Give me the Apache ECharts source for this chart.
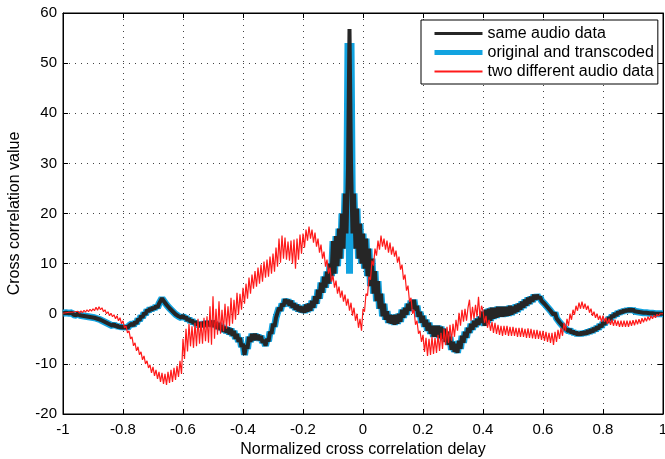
<!DOCTYPE html>
<html>
<head>
<meta charset="utf-8">
<script src="https://cdn.jsdelivr.net/npm/echarts@6/dist/echarts.min.js"></script>
<style>
html,body{margin:0;padding:0;background:#fff;}
#chart{width:665px;height:459px;}
</style>
</head>
<body>
<div id="chart"></div>
<script>
// sampling grid of the normalized delay axis (-1 .. 1, step 0.005)
const delayStart = -1;
const delayStep = 0.005;

// "same audio data" (black), one value per delay step
const sameAudio = [
0.1,-0.2,0.2,-0.1,0.1,-0.2,0.2,-0.2,0.0,-0.3,0.1,-0.3,0.0,-0.4,-0.1,-0.5,-0.2,-0.6,-0.3,-0.7,
-0.5,-0.8,-0.6,-1.0,-0.8,-1.2,-1.0,-1.5,-1.2,-1.8,-1.5,-2.1,-1.8,-2.4,-2.0,-2.6,-2.2,-2.8,-2.4,-2.9,
-2.5,-2.9,-2.5,-2.9,-2.4,-2.7,-2.0,-2.4,-1.6,-2.0,-1.0,-1.4,-0.4,-0.8,0.2,-0.2,0.8,0.4,1.1,0.7,
1.3,0.9,1.6,1.2,2.0,1.9,3.1,2.6,2.5,1.8,1.9,1.1,1.3,0.5,0.7,-0.1,0.2,-0.5,-0.2,-0.8,
-0.3,-1.0,-0.6,-1.4,-0.9,-1.7,-1.2,-2.0,-1.5,-2.3,-1.7,-2.6,-1.8,-2.6,-1.6,-2.5,-1.5,-2.5,-1.5,-2.5,
-1.4,-2.6,-1.7,-3.0,-1.9,-3.2,-2.3,-3.6,-2.6,-3.8,-2.8,-4.1,-3.0,-4.4,-3.4,-5.0,-4.0,-5.6,-4.8,-6.6,
-6.0,-8.2,-6.3,-7.0,-4.6,-5.6,-4.0,-5.3,-4.0,-5.2,-4.2,-5.3,-4.4,-5.8,-5.2,-6.4,-5.0,-5.5,-3.6,-4.0,
-2.0,-2.6,-0.8,-1.0,1.2,0.6,2.0,1.5,2.9,2.0,2.8,1.6,2.6,1.2,2.1,0.8,1.8,0.5,1.5,0.3,
1.4,0.2,1.8,0.4,2.0,0.6,2.6,1.2,3.5,2.0,4.8,3.0,6.2,4.2,7.4,5.2,8.4,6.0,10.0,7.5,
14.5,8.0,15.5,9.5,17.0,11.0,20.0,13.0,24.0,16.0,29.0,56.8,30.0,16.0,24.0,13.0,21.0,11.0,18.0,10.0,
16.0,9.0,15.0,7.5,13.0,5.5,11.0,4.0,8.5,2.5,6.5,1.0,4.0,-0.5,2.0,-1.2,0.5,-1.8,-0.2,-2.0,
-0.3,-2.2,-0.2,-2.0,0.0,-1.6,0.8,-0.8,1.2,-0.2,2.0,0.6,2.6,1.0,2.8,0.6,1.6,-0.6,0.4,-1.8,
-0.4,-2.6,-1.2,-3.4,-1.8,-4.0,-2.4,-4.6,-2.4,-4.6,-2.4,-4.8,-2.6,-5.0,-3.0,-5.6,-3.6,-6.2,-4.6,-7.2,
-5.6,-7.6,-6.0,-7.8,-5.4,-7.0,-4.4,-5.8,-3.6,-4.8,-2.8,-3.8,-2.0,-3.2,-1.4,-2.6,-1.0,-2.2,-0.6,-1.8,
0.4,-2.4,0.8,-1.8,1.0,-1.4,1.2,-1.0,1.2,-0.8,1.4,-0.6,1.4,-0.6,1.4,-0.5,1.4,-0.4,1.6,-0.2,
1.4,0.1,1.8,0.4,2.0,0.8,2.4,1.2,2.8,1.6,3.2,2.0,3.4,2.4,3.8,2.8,3.8,3.0,3.4,2.6,
2.8,2.0,2.2,1.3,1.6,0.6,0.9,-0.2,0.2,-0.9,-0.6,-1.7,-1.4,-2.4,-2.1,-3.0,-2.7,-3.5,-3.1,-3.9,
-3.4,-4.1,-3.6,-4.3,-3.7,-4.3,-3.6,-4.2,-3.5,-4.1,-3.3,-3.9,-3.1,-3.7,-2.8,-3.4,-2.5,-3.1,-2.1,-2.7,
-1.7,-2.2,-1.2,-1.7,-0.7,-1.2,-0.3,-0.7,0.1,-0.4,0.4,0.0,0.6,0.2,0.8,0.4,0.9,0.5,1.0,0.5,
0.9,0.5,0.8,0.4,0.7,0.3,0.6,0.2,0.5,0.2,0.4,0.1,0.3,0.1,0.2,0.0,0.1,0.0,0.1,0.0,0.0
];

// "original and transcoded" (blue), one value per delay step
const origTranscoded = [
0.1,-0.2,0.2,-0.1,0.1,-0.2,0.2,-0.2,0.0,-0.3,0.1,-0.3,0.0,-0.4,-0.1,-0.5,-0.2,-0.6,-0.3,-0.7,
-0.5,-0.8,-0.6,-1.0,-0.8,-1.2,-1.0,-1.5,-1.2,-1.8,-1.5,-2.1,-1.8,-2.4,-2.0,-2.6,-2.2,-2.8,-2.4,-2.9,
-2.5,-2.9,-2.5,-2.9,-2.4,-2.7,-2.0,-2.4,-1.6,-2.0,-1.0,-1.4,-0.4,-0.8,0.2,-0.2,0.8,0.4,1.1,0.7,
1.3,0.9,1.6,1.2,2.0,1.9,3.1,2.6,2.5,1.8,1.9,1.1,1.3,0.5,0.7,-0.1,0.2,-0.5,-0.2,-0.8,
-0.3,-1.0,-0.6,-1.4,-0.9,-1.7,-1.2,-2.0,-1.5,-2.3,-1.7,-2.6,-1.8,-2.6,-1.6,-2.5,-1.5,-2.5,-1.5,-2.5,
-1.4,-2.6,-1.7,-3.0,-1.9,-3.2,-2.3,-3.6,-2.6,-3.8,-2.8,-4.1,-3.0,-4.4,-3.4,-5.0,-4.0,-5.6,-4.8,-6.6,
-6.0,-8.2,-6.3,-7.0,-4.6,-5.6,-4.0,-5.3,-4.0,-5.2,-4.2,-5.3,-4.4,-5.8,-5.2,-6.4,-5.0,-5.5,-3.6,-4.0,
-2.0,-2.6,-0.8,-1.0,1.2,0.6,2.0,1.5,2.9,2.0,2.8,1.6,2.6,1.2,2.1,0.8,1.8,0.5,1.5,0.3,
1.4,0.2,1.8,0.4,2.0,0.6,2.6,1.2,3.5,2.0,4.8,3.0,6.2,4.2,7.4,5.2,8.4,6.0,10.0,7.5,
14.5,8.0,15.5,9.5,17.0,11.0,20.0,13.0,24.0,16.0,54.0,8.0,54.0,16.0,24.0,13.0,21.0,11.0,18.0,10.0,
16.0,9.0,15.0,7.5,13.0,5.5,11.0,4.0,8.5,2.5,6.5,1.0,4.0,-0.5,2.0,-1.2,0.5,-1.8,-0.2,-2.0,
-0.3,-2.2,-0.2,-2.0,0.0,-1.6,0.8,-0.8,1.2,-0.2,2.0,0.6,2.6,1.0,2.8,0.6,1.6,-0.6,0.4,-1.8,
-0.4,-2.6,-1.2,-3.4,-1.8,-4.0,-2.4,-4.6,-2.4,-4.6,-2.4,-4.8,-2.6,-5.0,-3.0,-5.6,-3.6,-6.2,-4.6,-7.2,
-5.6,-7.6,-6.0,-7.8,-5.4,-7.0,-4.4,-5.8,-3.6,-4.8,-2.8,-3.8,-2.0,-3.2,-1.4,-2.6,-1.0,-2.2,-0.6,-1.8,
0.4,-2.4,0.8,-1.8,1.0,-1.4,1.2,-1.0,1.2,-0.8,1.4,-0.6,1.4,-0.6,1.4,-0.5,1.4,-0.4,1.6,-0.2,
1.4,0.1,1.8,0.4,2.0,0.8,2.4,1.2,2.8,1.6,3.2,2.0,3.4,2.4,3.8,2.8,3.8,3.0,3.4,2.6,
2.8,2.0,2.2,1.3,1.6,0.6,0.9,-0.2,0.2,-0.9,-0.6,-1.7,-1.4,-2.4,-2.1,-3.0,-2.7,-3.5,-3.1,-3.9,
-3.4,-4.1,-3.6,-4.3,-3.7,-4.3,-3.6,-4.2,-3.5,-4.1,-3.3,-3.9,-3.1,-3.7,-2.8,-3.4,-2.5,-3.1,-2.1,-2.7,
-1.7,-2.2,-1.2,-1.7,-0.7,-1.2,-0.3,-0.7,0.1,-0.4,0.4,0.0,0.6,0.2,0.8,0.4,0.9,0.5,1.0,0.5,
0.9,0.5,0.8,0.4,0.7,0.3,0.6,0.2,0.5,0.2,0.4,0.1,0.3,0.1,0.2,0.0,0.1,0.0,0.1,0.0,0.0
];

// "two different audio data" (red), one value per delay step
const differentAudio = [
0.1,-0.2,0.2,-0.1,0.3,0.0,0.3,0.0,0.4,0.1,0.5,0.1,0.6,0.2,0.7,0.3,0.8,0.4,0.9,0.5,
1.0,0.6,1.3,0.7,1.4,0.8,1.2,0.4,0.8,0.0,0.4,-0.4,0.1,-0.6,-0.2,-1.0,-0.4,-1.4,-0.8,-2.0,
-1.4,-2.8,-2.4,-3.8,-3.4,-5.0,-4.6,-6.4,-5.8,-7.4,-6.6,-8.2,-7.6,-9.2,-8.4,-10.0,-9.4,-10.8,-10.2,-11.8,
-10.6,-12.4,-11.2,-13.0,-11.6,-13.6,-11.8,-14.0,-12.0,-14.2,-11.6,-13.8,-11.2,-13.6,-10.8,-13.2,-10.4,-12.6,-9.4,-12.0,
-5.0,-9.0,-3.0,-7.5,-2.0,-6.5,-2.5,-6.8,-1.8,-6.5,-1.0,-6.0,-1.5,-6.0,-0.8,-5.5,-0.5,-5.8,1.5,-6.2,
3.5,-5.0,1.0,-4.2,2.5,-4.0,0.8,-3.5,2.0,-3.0,1.5,-2.5,3.2,-2.0,2.8,-1.2,4.2,-0.2,4.0,0.8,
5.2,2.0,6.0,3.0,7.2,4.0,7.8,5.0,8.5,5.4,9.2,6.0,9.8,6.4,10.4,7.2,10.8,7.4,11.4,8.0,
12.0,8.4,13.2,9.4,15.0,10.2,15.6,11.0,15.2,10.8,14.4,10.6,14.6,10.0,14.8,9.0,15.0,10.8,15.8,12.0,
16.0,13.2,16.8,14.6,17.4,15.0,16.8,14.2,16.2,13.4,15.0,12.2,13.8,11.0,12.4,9.4,10.8,8.0,9.2,6.4,
7.6,5.2,6.6,4.0,5.4,3.2,4.6,2.4,3.8,1.6,3.0,0.6,2.2,-0.4,1.2,-1.4,0.0,-2.8,-1.0,-3.4,
1.0,0.4,4.0,3.6,7.4,6.8,10.6,9.6,13.0,11.6,14.6,12.8,15.6,13.4,15.0,12.8,14.6,12.2,14.2,11.8,
13.4,11.4,12.6,10.2,11.4,8.8,9.8,6.8,7.8,4.6,5.6,2.4,3.2,0.0,0.8,-2.2,-1.4,-4.0,-3.4,-5.6,
-4.2,-7.6,-4.8,-8.4,-5.0,-8.2,-4.6,-8.0,-4.8,-7.8,-4.2,-7.4,-3.8,-7.0,-3.0,-6.2,-2.6,-5.8,-2.2,-5.4,
-2.0,-4.6,-1.2,-3.4,0.2,-2.4,0.8,-1.6,1.0,-1.4,1.2,2.8,-1.4,1.4,-1.0,1.8,-0.6,3.4,-0.8,1.6,
0.6,-1.8,-0.4,-2.8,-1.2,-3.4,-1.6,-3.8,-1.8,-4.0,-2.2,-4.2,-2.4,-4.4,-2.4,-4.2,-2.4,-4.4,-2.6,-4.4,
-2.6,-4.4,-2.8,-4.6,-2.8,-4.6,-2.8,-4.6,-3.0,-4.8,-2.9,-4.8,-3.0,-4.9,-3.2,-5.0,-3.2,-5.0,-3.4,-5.2,
-3.4,-5.4,-3.6,-5.6,-3.8,-5.8,-3.8,-6.2,-3.6,-5.6,-3.2,-5.0,-2.8,-4.4,-1.8,-3.4,-1.0,-2.4,0.0,-1.2,
0.8,-0.2,1.6,0.6,2.2,1.0,2.4,1.0,2.0,0.8,1.6,0.2,1.0,-0.4,0.4,-0.8,0.0,-1.2,-0.4,-1.6,
-0.4,-1.6,-0.8,-2.0,-1.0,-2.2,-1.2,-2.4,-1.2,-2.4,-1.4,-2.6,-1.4,-2.6,-1.4,-2.6,-1.4,-2.6,-1.4,-2.4,
-1.3,-2.3,-1.2,-2.1,-1.1,-2.0,-0.9,-1.7,-0.8,-1.5,-0.6,-1.3,-0.4,-1.0,-0.3,-0.8,-0.1,-0.5,0.0,-0.2,0.0
];

const xTicks = { min: -1, max: 1, interval: 0.2 };
const yTicks = { min: -20, max: 60, interval: 10 };

const seriesNames = ['same audio data', 'original and transcoded', 'two different audio data'];

function pairs(vals) {
  return vals.map((v, i) => [Math.round((delayStart + i * delayStep) * 1000) / 1000, v]);
}

const FONT = "'Liberation Sans', Arial, Helvetica, sans-serif";
const chart = echarts.init(document.getElementById('chart'), null, { renderer: 'canvas' });

const dotted = { color: '#444', width: 1, type: [1, 5] };
const BLACK = '#262626', BLUE = '#12a3e0', RED = '#ff1a1a';

chart.setOption({
  animation: false,
  backgroundColor: '#fff',
  textStyle: { fontFamily: FONT },
  grid: {
    left: 63, top: 13, right: 2, bottom: 45,
    containLabel: false, outerBoundsMode: 'none',
    show: true, borderColor: '#000', borderWidth: 1, backgroundColor: 'transparent'
  },
  legend: {
    data: [
      { name: seriesNames[0], lineStyle: { width: 3 } },
      { name: seriesNames[1], lineStyle: { width: 5 } },
      { name: seriesNames[2] }
    ],
    orient: 'vertical',
    left: 421,
    top: 20,
    padding: [5, 4, 4, 11],
    itemWidth: 48,
    itemHeight: 14,
    itemGap: 2,
    itemStyle: { opacity: 0 },
    backgroundColor: '#fff',
    borderColor: '#000',
    borderWidth: 1,
    borderRadius: 0,
    textStyle: { fontFamily: FONT, fontSize: 16, lineHeight: 17, color: '#000' }
  },
  xAxis: [{
    type: 'value', min: xTicks.min, max: xTicks.max, interval: xTicks.interval,
    name: 'Normalized cross correlation delay', nameLocation: 'middle', nameGap: 25,
    nameTextStyle: { fontFamily: FONT, fontSize: 16, color: '#000' },
    axisLine: { show: true, onZero: false, lineStyle: { color: '#000', width: 1 } },
    axisTick: { show: true, inside: true, length: 5, lineStyle: { color: '#000' } },
    axisLabel: { color: '#000', fontSize: 15, fontFamily: FONT, margin: 8 },
    splitLine: { show: true, lineStyle: dotted }
  }, {
    type: 'value', position: 'top', min: xTicks.min, max: xTicks.max, interval: xTicks.interval,
    axisLine: { show: true, onZero: false, lineStyle: { color: '#000', width: 1 } },
    axisTick: { show: true, inside: true, length: 5, lineStyle: { color: '#000' } },
    axisLabel: { show: false }, splitLine: { show: false }
  }],
  yAxis: [{
    type: 'value', min: yTicks.min, max: yTicks.max, interval: yTicks.interval,
    name: 'Cross correlation value', nameLocation: 'middle', nameGap: 40, nameRotate: 90,
    nameTextStyle: { fontFamily: FONT, fontSize: 16, color: '#000' },
    axisLine: { show: true, onZero: false, lineStyle: { color: '#000', width: 1 } },
    axisTick: { show: true, inside: true, length: 5, lineStyle: { color: '#000' } },
    axisLabel: { color: '#000', fontSize: 15, fontFamily: FONT, margin: 6 },
    splitLine: { show: true, lineStyle: dotted }
  }, {
    type: 'value', position: 'right', min: yTicks.min, max: yTicks.max, interval: yTicks.interval,
    axisLine: { show: true, onZero: false, lineStyle: { color: '#000', width: 1 } },
    axisTick: { show: true, inside: true, length: 5, lineStyle: { color: '#000' } },
    axisLabel: { show: false }, splitLine: { show: false }
  }],
  series: [{
    name: seriesNames[1], type: 'line', data: pairs(origTranscoded), symbol: 'none',
    lineStyle: { color: BLUE, width: 7 }, itemStyle: { color: BLUE }, z: 2
  }, {
    name: seriesNames[0], type: 'line', data: pairs(sameAudio), symbol: 'none',
    lineStyle: { color: BLACK, width: 4 }, itemStyle: { color: BLACK }, z: 3
  }, {
    name: seriesNames[2], type: 'line', data: pairs(differentAudio), symbol: 'none',
    lineStyle: { color: RED, width: 1.2 }, itemStyle: { color: RED }, z: 4
  }]
});
</script>
</body>
</html>
